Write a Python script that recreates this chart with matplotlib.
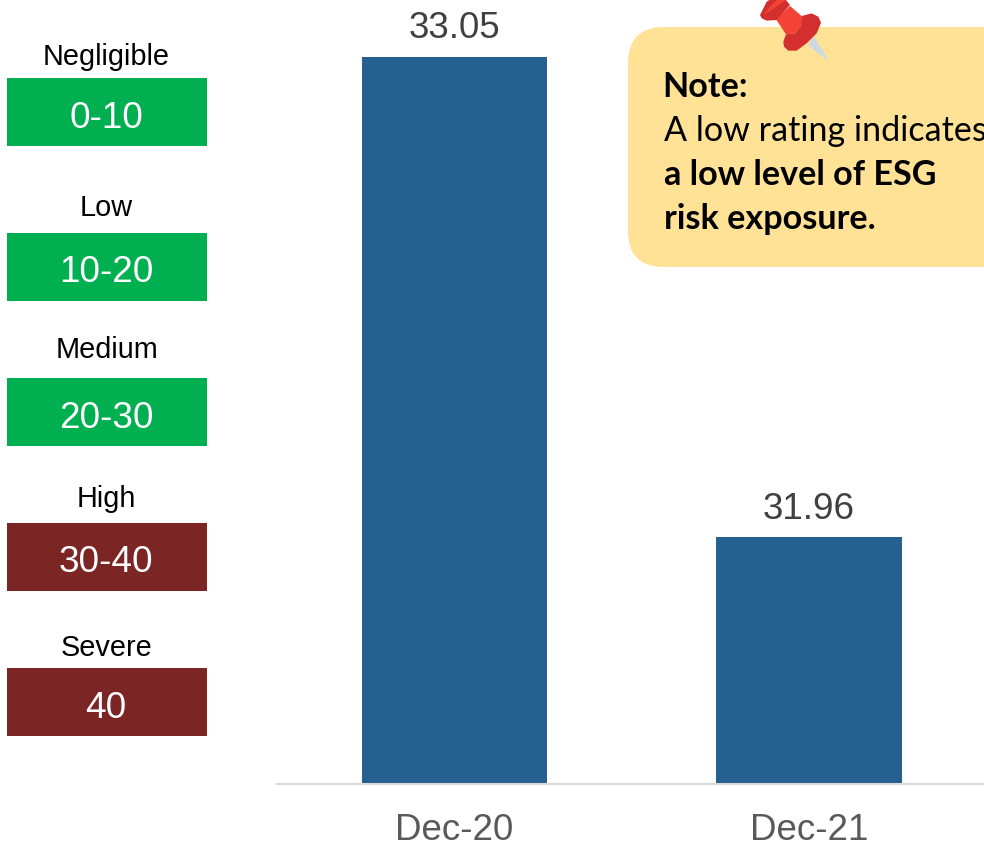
import matplotlib
matplotlib.use("Agg")
import matplotlib.pyplot as plt
from matplotlib.patches import Rectangle, FancyBboxPatch, Polygon

plt.rcParams['font.family'] = ['Liberation Sans', 'DejaVu Sans']

categories = ["Dec-20", "Dec-21"]
values = [33.05, 31.96]
value_labels = ["33.05", "31.96"]
band_names = ["Negligible", "Low", "Medium", "High", "Severe"]
band_ranges = ["0-10", "10-20", "20-30", "30-40", "40"]
band_colors = ["#00B050", "#00B050", "#00B050", "#7B2525", "#7B2525"]
note_lines = [("Note:", "bold"), ("A low rating indicates", "normal"),
              ("a low level of ESG", "bold"), ("risk exposure.", "bold")]

W, H = 984, 843
fig = plt.figure(figsize=(W / 100, H / 100), dpi=100, facecolor="white")

# chart axes
ax = fig.add_axes([277 / W, (H - 784) / H, (W - 277) / W, 784 / H])
ax.bar(range(len(values)), values, width=0.523, color="#256090", zorder=2)
ax.set_xlim(-0.5007, 1.4937)
ax.set_ylim(31.40, 33.179)
ax.set_yticks([])
ax.set_xticks(range(len(categories)))
ax.set_xticklabels(categories, fontsize=26.5, color="#595959")
ax.tick_params(axis="x", length=0, pad=21)
for s in ["top", "left", "right"]:
    ax.spines[s].set_visible(False)
ax.spines["bottom"].set_color("#D9D9D9")
ax.spines["bottom"].set_linewidth(1.5)
ax.patch.set_alpha(0)
for i, (v, lab) in enumerate(zip(values, value_labels)):
    ax.annotate(lab, (i, v), xytext=(0, 7.5), textcoords="offset points",
                ha="center", va="bottom", fontsize=26.5, color="#404040",
                annotation_clip=False)

# overlay in pixel coordinates for legend and note
ov = fig.add_axes([0, 0, 1, 1], zorder=5)
ov.set_xlim(0, W)
ov.set_ylim(H, 0)
ov.axis("off")
ov.patch.set_alpha(0)

box_tops = [78, 233, 378, 523, 668]
name_y = [54, 205, 347, 496, 645]
for name, rng, col, top, ny in zip(band_names, band_ranges, band_colors, box_tops, name_y):
    ov.add_patch(Rectangle((7, top), 200, 68, facecolor=col, edgecolor="none"))
    ov.text(106, top + 36, rng, ha="center", va="center_baseline", fontsize=26.6, color="white")
    ov.text(106.5, ny, name, ha="center", va="center_baseline", fontsize=20.8, color="black")

r = 36
ov.add_patch(FancyBboxPatch((628 + r, 27 + r), 500 - 2 * r, 240 - 2 * r,
                            boxstyle=f"round,pad={r},rounding_size={r}",
                            facecolor="#FFE296", edgecolor="none", clip_on=True))
for (txt, wt), y in zip(note_lines, [97, 141, 185, 229]):
    x = 662.5 if txt == "Note:" else 664
    ov.text(x, y, txt, ha="left", va="baseline", fontsize=24.6, fontweight=wt,
            family=["Lato", "DejaVu Sans"], color="black")

# pin
def z(pts):
    return [(750 + x / 3, y / 3) for x, y in pts]

ov.add_patch(Polygon(z([(172, 135), (192, 110), (235, 178), (228, 178)]), facecolor="#CFD8DF", edgecolor="none"))
ov.add_patch(Polygon(z([(78, 58), (120, 18), (155, 48), (158, 72), (135, 100), (108, 103)]),
                     facecolor="#F44336", edgecolor="none"))
ov.add_patch(Polygon(z([(100, 125), (108, 103), (135, 100), (155, 75), (155, 48), (185, 40), (205, 50), (213, 68),
                        (200, 100), (170, 130), (140, 152), (115, 152), (102, 140)]),
                     facecolor="#D32F2F", edgecolor="none"))
ov.add_patch(Polygon(z([(30, 45), (50, 5), (58, 0), (108, 0), (120, 15), (80, 60), (50, 62), (35, 55)]),
                     facecolor="#D32F2F", edgecolor="none"))
ov.add_patch(Polygon(z([(40, 45), (62, 18), (80, 0), (108, 0), (72, 25)]), facecolor="#F44336", edgecolor="none"))

fig.savefig("out.png", dpi=100, facecolor="white")
